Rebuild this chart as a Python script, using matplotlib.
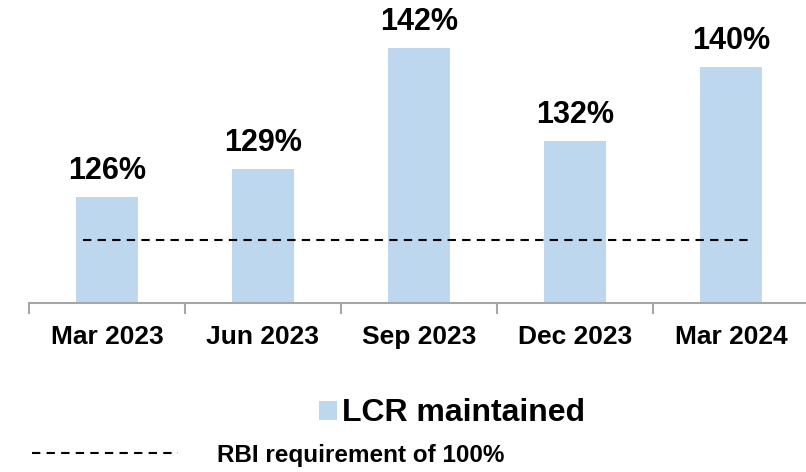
import matplotlib
matplotlib.use("Agg")
import matplotlib.pyplot as plt
from matplotlib.lines import Line2D
from matplotlib.patches import Patch

plt.rcParams['font.family'] = ['Liberation Sans', 'DejaVu Sans']

# data
quarters = ["Mar 2023", "Jun 2023", "Sep 2023", "Dec 2023", "Mar 2024"]
lcr = [126, 129, 142, 132, 140]
# the reference line is drawn at a schematic level on the truncated axis
rbi_line_level = 121.35
rbi_label = "RBI requirement of 100%"

bar_color = "#BDD7EE"
axis_color = "#A6A6A6"

fig = plt.figure(figsize=(8.06, 4.72), dpi=100)
ax = fig.add_axes([29 / 806, 1 - 303 / 472, 780 / 806, 303 / 472])

x = list(range(len(quarters)))
bars = ax.bar(x, lcr, width=0.4, color=bar_color, zorder=2)

for xi, v in zip(x, lcr):
    ax.annotate(f"{v}%", (xi, v), xytext=(0, 13), textcoords="offset points",
                ha="center", va="baseline", fontsize=22, fontweight="bold")

ax.plot([-0.155, 4.12], [rbi_line_level, rbi_line_level], color="black",
        lw=1.5, linestyle=(0, (4, 3)), zorder=3)

ax.set_xlim(-0.5, 4.5)
ax.set_ylim(114.6, 147.2)

for s in ["top", "right", "left"]:
    ax.spines[s].set_visible(False)
ax.spines["bottom"].set_color(axis_color)
ax.spines["bottom"].set_linewidth(1.5)
ax.set_yticks([])

# ticks at category boundaries, labels in the middle
ax.set_xticks([i - 0.5 for i in range(len(quarters) + 1)])
ax.set_xticklabels([])
ax.tick_params(axis="x", which="major", length=8, width=1.5, color=axis_color, direction="out")
ax.set_xticks(x, minor=True)
ax.set_xticklabels(quarters, minor=True, fontsize=19, fontweight="bold")
ax.tick_params(axis="x", which="minor", length=0, pad=16)

# legends
h1 = Patch(facecolor=bar_color, edgecolor="none")
leg1 = fig.legend([h1], ["LCR maintained"], loc="center", bbox_to_anchor=(0.561, 0.124),
                  frameon=False, prop={"size": 23, "weight": "bold"},
                  handlelength=0.55, handleheight=0.55, handletextpad=0.15,
                  borderpad=0, borderaxespad=0)
h2 = Line2D([], [], color="black", lw=1.5, linestyle=(0, (4, 3)))
leg2 = fig.legend([h2], [rbi_label], loc="center", bbox_to_anchor=(0.333, 0.036),
                  frameon=False, prop={"size": 17.5, "weight": "bold"},
                  handlelength=6.0, handletextpad=1.6,
                  borderpad=0, borderaxespad=0)

fig.savefig("out.png", dpi=100)
